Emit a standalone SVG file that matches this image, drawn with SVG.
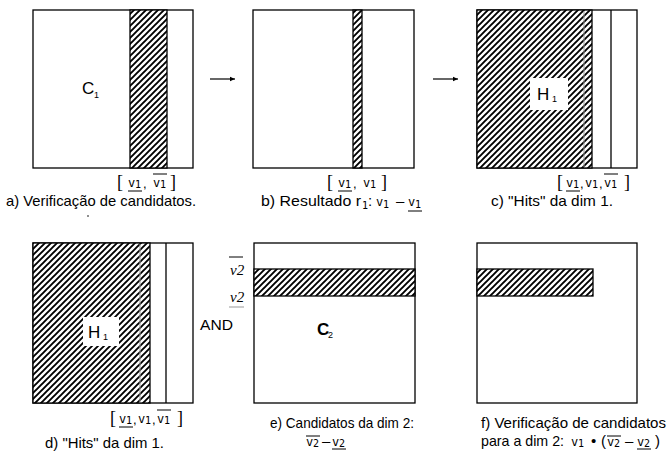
<svg xmlns="http://www.w3.org/2000/svg" width="670" height="460" viewBox="0 0 670 460">
<style>
.box{fill:#fff;stroke:#000;stroke-width:1.3}
.hat{fill:url(#hatch);stroke:#000;stroke-width:1.3}
.ln{stroke:#000;stroke-width:1.3;fill:none}
.gl{stroke:#999;stroke-width:1;fill:none}
.cap{font-family:"Liberation Sans",Arial,sans-serif;font-size:15px;fill:#000}
.lab{font-family:"Liberation Sans",Arial,sans-serif;font-size:17px;fill:#000}
.sub{font-family:"Liberation Sans",Arial,sans-serif;font-size:9px;fill:#000}
.m{font-family:"DejaVu Sans Mono",monospace;font-size:12px;fill:#000}
.ms{font-family:"DejaVu Sans Mono",monospace;font-size:10px}
.cm{font-family:"Liberation Sans",Arial,sans-serif;font-size:13px}
.br{font-family:"Liberation Serif",serif;font-size:18px}
.iv{font-family:"Liberation Serif",serif;font-style:italic;font-size:15px;fill:#000}
.ul{stroke:#000;stroke-width:1}
.con{stroke:#000;stroke-width:1.2;fill:none;marker-end:url(#ah)}
</style>
<defs>
<pattern id="hatch" width="6" height="6" patternUnits="userSpaceOnUse">
<rect width="6" height="6" fill="#fff"/>
<path d="M-1,7 L7,-1 M-4,4 L4,-4 M2,10 L10,2" stroke="#000" stroke-width="1.9"/>
</pattern>
<marker id="ah" markerWidth="6" markerHeight="6" refX="5" refY="3" orient="auto" markerUnits="userSpaceOnUse">
<path d="M0,0.8 L5,3 L0,5.2 Z" fill="#000"/>
</marker>
</defs>
<rect width="670" height="460" fill="#fff"/>

<g id="connectors">
<line class="con" x1="210" y1="79" x2="235" y2="79"/>
<line class="con" x1="433" y1="79" x2="458" y2="79"/>
</g>

<g id="panel-a">
<rect class="box" x="33" y="10" width="160" height="158"/>
<rect class="hat" x="130" y="10" width="37" height="158"/>
<text class="lab" x="82" y="94">C<tspan class="sub" x="94" y="98">1</tspan></text>
<text class="m"><tspan class="br" x="117" y="188">[</tspan><tspan x="128" y="187">v</tspan><tspan class="ms" x="135" y="188">1</tspan><tspan class="cm" x="143" y="188">,</tspan><tspan x="153" y="187">v</tspan><tspan class="ms" x="160" y="188">1</tspan><tspan class="br" x="170" y="188">]</tspan></text>
<line class="ul" x1="128" y1="191" x2="142" y2="191"/>
<line class="ul" x1="153" y1="174" x2="167" y2="174"/>
<text class="cap" x="6" y="206" textLength="190" lengthAdjust="spacingAndGlyphs">a) Verificação de candidatos.</text>
<circle cx="88" cy="216" r="0.8" fill="#000"/>
</g>

<g id="panel-b">
<rect class="box" x="253" y="10" width="161" height="158"/>
<rect class="hat" x="353" y="10" width="9" height="158"/>
<text class="m"><tspan class="br" x="327" y="188">[</tspan><tspan x="338" y="187">v</tspan><tspan class="ms" x="345" y="188">1</tspan><tspan class="cm" x="353" y="188">,</tspan><tspan x="363" y="187">v</tspan><tspan class="ms" x="370" y="188">1</tspan><tspan class="br" x="381" y="188">]</tspan></text>
<line class="ul" x1="338" y1="191" x2="352" y2="191"/>
<text class="cap"><tspan x="261" y="206" textLength="100" lengthAdjust="spacingAndGlyphs">b) Resultado r</tspan><tspan class="ms" x="362" y="209">1</tspan><tspan x="368" y="206">:</tspan><tspan class="m" x="376" y="206">v</tspan><tspan class="ms" x="383" y="208">1</tspan><tspan x="396" y="206">–</tspan><tspan class="m" x="408" y="206">v</tspan><tspan class="ms" x="415" y="208">1</tspan></text>
<line class="ul" x1="408" y1="211" x2="422" y2="211"/>
</g>

<g id="panel-c">
<rect class="box" x="477" y="10" width="160" height="158"/>
<rect class="hat" x="477" y="10" width="115" height="158"/>
<line class="gl" x1="584" y1="11" x2="584" y2="167"/>
<line class="ln" x1="611" y1="10" x2="611" y2="168"/>
<rect x="530" y="78" width="38" height="32" fill="#fff"/>
<text class="lab" x="537" y="100" font-size="18">H<tspan class="sub" x="552" y="102">1</tspan></text>
<text class="m"><tspan class="br" x="557" y="188">[</tspan><tspan x="566" y="187">v</tspan><tspan class="ms" x="573" y="188">1</tspan><tspan class="cm" x="580" y="188">,</tspan><tspan x="585" y="187">v</tspan><tspan class="ms" x="592" y="188">1</tspan><tspan class="cm" x="599" y="188">,</tspan><tspan x="604" y="187">v</tspan><tspan class="ms" x="611" y="188">1</tspan><tspan class="br" x="624" y="188">]</tspan></text>
<line class="ul" x1="566" y1="191" x2="580" y2="191"/>
<line class="ul" x1="604" y1="174" x2="618" y2="174"/>
<text class="cap" x="491" y="206" textLength="122" lengthAdjust="spacingAndGlyphs">c) "Hits" da dim 1.</text>
</g>

<g id="panel-d">
<rect class="box" x="33" y="243" width="160" height="160"/>
<rect class="hat" x="33" y="243" width="117" height="160"/>
<line class="gl" x1="140" y1="244" x2="140" y2="402"/>
<line class="ln" x1="166" y1="243" x2="166" y2="403"/>
<rect x="83" y="317" width="36" height="29" fill="#fff"/>
<text class="lab" x="88" y="338" font-size="18">H<tspan class="sub" x="103" y="340">1</tspan></text>
<text class="m"><tspan class="br" x="110" y="424">[</tspan><tspan x="119" y="423">v</tspan><tspan class="ms" x="126" y="424">1</tspan><tspan class="cm" x="133" y="424">,</tspan><tspan x="138" y="423">v</tspan><tspan class="ms" x="145" y="424">1</tspan><tspan class="cm" x="152" y="424">,</tspan><tspan x="157" y="423">v</tspan><tspan class="ms" x="164" y="424">1</tspan><tspan class="br" x="177" y="424">]</tspan></text>
<line class="ul" x1="119" y1="427" x2="133" y2="427"/>
<line class="ul" x1="157" y1="410" x2="171" y2="410"/>
<text class="cap" x="45" y="448" textLength="119" lengthAdjust="spacingAndGlyphs">d) "Hits" da dim 1.</text>
<text class="cap" x="200" y="330" font-size="13" textLength="33" lengthAdjust="spacingAndGlyphs">AND</text>
</g>

<g id="panel-e">
<rect class="box" x="254" y="243" width="161" height="160"/>
<rect class="hat" x="254" y="269" width="161" height="27"/>
<line class="ul" x1="229" y1="257" x2="243" y2="257"/>
<text class="iv" x="230" y="275">v2</text>
<text class="iv" x="230" y="302">v2</text>
<line x1="229" y1="307" x2="244" y2="307" stroke="#999" stroke-width="1"/>
<text class="lab" x="317" y="335" font-size="15" font-weight="bold">C<tspan class="sub" x="328" y="338" font-weight="normal">2</tspan></text>
<text class="cap" x="270" y="428" textLength="144" lengthAdjust="spacingAndGlyphs">e) Candidatos da dim 2:</text>
<text class="m"><tspan x="306" y="446">v</tspan><tspan class="ms" x="313" y="447">2</tspan><tspan class="cap" x="322" y="446">–</tspan><tspan x="332" y="446">v</tspan><tspan class="ms" x="339" y="447">2</tspan></text>
<line class="ul" x1="306" y1="436" x2="320" y2="436"/>
<line class="ul" x1="332" y1="449" x2="346" y2="449"/>
</g>

<g id="panel-f">
<rect class="box" x="477" y="243" width="160" height="160"/>
<rect class="hat" x="477" y="269" width="116" height="27"/>
<text class="cap" x="481" y="428" textLength="185" lengthAdjust="spacingAndGlyphs">f) Verificação de candidatos</text>
<text class="cap"><tspan x="481" y="446" textLength="83" lengthAdjust="spacingAndGlyphs">para a dim 2:</tspan><tspan class="m" x="571" y="446">v</tspan><tspan class="ms" x="578" y="447">1</tspan><tspan x="591" y="446">•</tspan><tspan x="601" y="446">(</tspan><tspan class="m" x="607" y="446">v</tspan><tspan class="ms" x="614" y="447">2</tspan><tspan x="625" y="446">–</tspan><tspan class="m" x="637" y="446">v</tspan><tspan class="ms" x="644" y="447">2</tspan><tspan x="655" y="446">)</tspan></text>
<line class="ul" x1="607" y1="436" x2="621" y2="436"/>
<line class="ul" x1="637" y1="449" x2="651" y2="449"/>
</g>
</svg>
